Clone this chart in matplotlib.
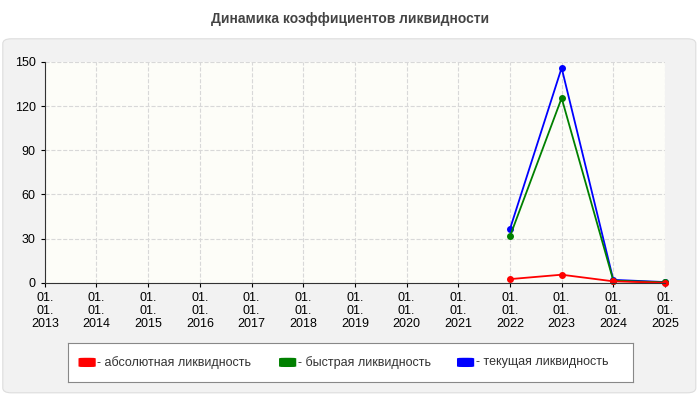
import matplotlib.pyplot as plt
from matplotlib.patches import FancyBboxPatch

years = list(range(2013, 2026))
tick_labels = [f"01.\n01.\n{y}" for y in years]
data_years = [2022, 2023, 2024, 2025]
absolute = [2.5, 5.5, 1.0, 0.0]
quick = [31.5, 125.5, 1.5, 0.3]
current = [36.5, 146.0, 2.0, 0.5]

plt.rcParams['font.family'] = ['Liberation Sans', 'DejaVu Sans']
fig = plt.figure(figsize=(7, 4), dpi=100)
fig.patch.set_facecolor('white')
bg = FancyBboxPatch((0.004, 0.018), 0.99, 0.885, boxstyle="round,pad=0,rounding_size=0.012",
                    transform=fig.transFigure, facecolor='#f2f2f2', edgecolor='#dddddd', lw=0.8,
                    zorder=-10)
fig.patches.append(bg)
fig.text(0.5, 0.952, "Динамика коэффициентов ликвидности", ha='center', va='center',
         fontsize=10, fontweight='bold', color='#444444')

ax = fig.add_axes([0.064, 0.293, 0.886, 0.552])
ax.set_facecolor('#fdfdf8')
for y, col in [(current, 'blue'), (quick, 'green'), (absolute, 'red')]:
    ax.plot(data_years, y, color=col, lw=1.3, marker='o', ms=4, clip_on=False)
ax.set_xlim(2013, 2025)
ax.set_ylim(0, 150)
ax.set_yticks([0, 30, 60, 90, 120, 150])
ax.set_xticks(years)
ax.set_xticklabels(tick_labels, fontsize=9, linespacing=1.1)
ax.tick_params(axis='y', labelsize=9)
ax.tick_params(length=3)
ax.grid(True, ls='--', color='#d8d8d8', lw=0.8)
for s in ['top', 'right']:
    ax.spines[s].set_visible(False)
ax.spines['left'].set_color('#333333')
ax.spines['bottom'].set_color('#333333')

lax = fig.add_axes([0.097, 0.045, 0.807, 0.098])
lax.set_xticks([]); lax.set_yticks([])
lax.set_facecolor('white')
for s in lax.spines.values():
    s.set_color('#888888')
items = [('red', '- абсолютная ликвидность', 0.02), ('green', '- быстрая ликвидность', 0.375),
         ('blue', '- текущая ликвидность', 0.69)]
for col, txt, x in items:
    lax.add_patch(FancyBboxPatch((x, 0.4), 0.028, 0.2, boxstyle="round,pad=0,rounding_size=0.01",
                                 facecolor=col, edgecolor=col, transform=lax.transAxes))
    lax.text(x + 0.032, 0.5, txt, va='center', fontsize=9, color='#333333', transform=lax.transAxes)

fig.savefig('out.png', dpi=100)
